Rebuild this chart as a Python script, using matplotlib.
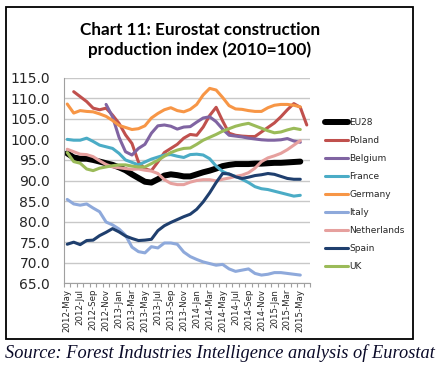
import numpy as np
import matplotlib
matplotlib.use("Agg")
import matplotlib.pyplot as plt
from matplotlib.patches import Rectangle

months = ["2012-May", "2012-Jun", "2012-Jul", "2012-Aug", "2012-Sep", "2012-Oct", "2012-Nov", "2012-Dec",
          "2013-Jan", "2013-Feb", "2013-Mar", "2013-Apr", "2013-May", "2013-Jun", "2013-Jul", "2013-Aug",
          "2013-Sep", "2013-Oct", "2013-Nov", "2013-Dec", "2014-Jan", "2014-Feb", "2014-Mar", "2014-Apr",
          "2014-May", "2014-Jun", "2014-Jul", "2014-Aug", "2014-Sep", "2014-Oct", "2014-Nov", "2014-Dec",
          "2015-Jan", "2015-Feb", "2015-Mar", "2015-Apr", "2015-May", "2015-Jun"]

nan = np.nan
eu28 = [96.6, 95.6, 95.3, 95.3, 95.0, 94.6, 94.2, 93.8, 93.2, 92.5, 91.5, 90.6, 89.7, 89.5, 90.3, 91.2,
        91.5, 91.3, 91.0, 91.0, 91.5, 92.0, 92.4, 92.9, 93.5, 93.8, 94.0, 94.0, 94.0, 94.1, 94.1, 94.2,
        94.3, 94.3, 94.4, 94.5, 94.6, nan]
poland = [nan, 111.6, 110.4, 109.2, 107.6, 107.2, 107.6, 105.9, 103.9, 101.1, 99.0, 94.5, 92.8, 92.4, 94.5, 96.8,
          97.8, 98.8, 100.3, 101.2, 101.0, 103.0, 105.8, 107.8, 104.5, 101.5, 101.0, 100.8, 100.7, 100.7, 101.8, 102.9,
          104.0, 105.5, 107.2, 108.7, 107.8, 103.5]
belgium = [nan, nan, nan, nan, nan, nan, 108.5, 105.5, 100.5, 97.0, 96.2, 97.8, 98.8, 101.5, 103.3, 103.5,
           103.2, 102.5, 103.0, 103.1, 104.2, 105.2, 105.5, 104.3, 102.5, 101.0, 100.8, 100.6, 100.3, 100.1, 99.9, 99.8,
           99.8, 99.9, 100.2, 99.6, 99.3, nan]
france = [100.0, 99.8, 99.8, 100.3, 99.5, 98.6, 98.2, 97.8, 96.6, 95.0, 94.4, 93.8, 94.5, 95.2, 95.7, 96.2,
          96.3, 95.9, 95.6, 96.3, 96.4, 96.2, 95.3, 93.5, 92.2, 91.5, 91.0, 90.3, 89.5, 88.5, 88.0, 87.8,
          87.4, 87.0, 86.6, 86.2, 86.4, nan]
germany = [108.6, 106.4, 107.0, 106.8, 106.7, 106.2, 105.6, 104.6, 103.4, 102.9, 102.4, 102.6, 103.3, 105.2, 106.3, 107.2,
           107.7, 107.0, 106.7, 107.3, 108.5, 110.8, 112.4, 112.0, 110.2, 108.2, 107.4, 107.3, 107.0, 106.8, 106.8, 107.7,
           108.3, 108.5, 108.5, 108.3, 107.9, nan]
italy = [85.4, 84.3, 84.0, 84.3, 83.3, 82.4, 79.9, 79.2, 78.2, 76.7, 73.8, 72.7, 72.4, 73.9, 73.6, 74.8,
         74.8, 74.5, 72.6, 71.5, 70.8, 70.2, 69.8, 69.4, 69.6, 68.5, 67.9, 68.2, 68.5, 67.4, 67.0, 67.2,
         67.6, 67.6, 67.4, 67.2, 67.0, nan]
netherlands = [97.6, 97.0, 96.4, 96.3, 95.8, 94.8, 93.9, 93.3, 93.1, 92.9, 92.7, 92.8, 92.5, 92.3, 91.7, 90.2,
               89.3, 89.0, 89.0, 89.6, 90.0, 90.2, 90.2, 89.9, 90.3, 90.6, 91.0, 91.3, 91.9, 93.0, 94.6, 95.5,
               96.0, 96.6, 97.5, 98.6, 99.7, nan]
spain = [74.5, 75.0, 74.4, 75.4, 75.5, 76.6, 77.4, 78.3, 77.5, 76.5, 75.9, 75.4, 75.5, 75.7, 77.8, 79.0,
         79.8, 80.5, 81.2, 81.8, 83.0, 84.8, 87.0, 89.5, 91.7, 91.6, 90.9, 90.5, 90.8, 91.2, 91.4, 91.7,
         91.5, 91.0, 90.5, 90.3, 90.3, nan]
uk = [96.8, 94.6, 94.2, 92.8, 92.4, 93.0, 93.3, 93.6, 93.8, 93.8, 93.5, 93.3, 93.3, 94.1, 94.9, 95.9,
      96.8, 97.4, 97.8, 97.9, 98.8, 99.8, 100.5, 101.2, 102.0, 102.6, 103.2, 103.6, 103.9, 103.3, 102.7, 102.1,
      101.6, 101.8, 102.3, 102.7, 102.4, nan]

series_names = ["EU28", "Poland", "Belgium", "France", "Germany", "Italy", "Netherlands", "Spain", "UK"]
series_values = [eu28, poland, belgium, france, germany, italy, netherlands, spain, uk]
series_colors = ["#000000", "#C0504D", "#8064A2", "#4BACC6", "#F79646", "#8EA9DB", "#E6A09E", "#1F3F6E", "#9BBB59"]
series_widths = [4.3, 2.2, 2.2, 2.2, 2.2, 2.2, 2.2, 2.2, 2.2]

title_text = "Chart 11: Eurostat construction\nproduction index (2010=100)"
source_text = "Source: Forest Industries Intelligence analysis of Eurostat"
y_ticks = [65, 70, 75, 80, 85, 90, 95, 100, 105, 110, 115]

W, H = 443, 366
fig = plt.figure(figsize=(W / 100, H / 100), dpi=100)
fig.patch.set_facecolor("white")

ax = fig.add_axes([64 / W, 1 - 283.3 / H, (310 - 64) / W, (283.3 - 77.7) / H])
x = np.arange(len(months))
lines = []
for name, vals, c, lw in zip(series_names, series_values, series_colors, series_widths):
    ln, = ax.plot(x, vals, color=c, lw=lw, label=name, solid_capstyle="round", solid_joinstyle="round")
    lines.append(ln)

ax.set_xlim(-0.5, len(months) - 0.5)
ax.set_ylim(65, 115)
ax.set_yticks(y_ticks)
ax.set_yticklabels([f"{v:.1f}" for v in y_ticks], fontsize=10, color="#262626")
ax.tick_params(axis="y", length=0, pad=10)
ax.grid(axis="y", color="#C8C8C8", lw=1)
ax.set_axisbelow(True)

label_idx = list(range(0, 37, 2))
ax.set_xticks(label_idx)
ax.set_xticklabels([months[i] for i in label_idx], rotation=90, fontsize=6.2, color="#262626")
ax.set_xticks(np.arange(-0.5, len(months), 1.0), minor=True)
ax.tick_params(axis="x", which="major", length=0, pad=4)
ax.tick_params(axis="x", which="minor", length=3, color="#A0A0A0", width=0.8)

for s in ["top", "right"]:
    ax.spines[s].set_visible(False)
ax.spines["left"].set_color("#A0A0A0")
ax.spines["bottom"].set_color("#A0A0A0")
ax.spines["left"].set_linewidth(0.8)
ax.spines["bottom"].set_linewidth(0.8)

leg = ax.legend(handles=lines, loc="upper left", bbox_to_anchor=(325 / W, 1 - 118 / H),
                bbox_transform=fig.transFigure, frameon=False, fontsize=6.5,
                handlelength=2.55, handletextpad=0.15, labelspacing=1.0, borderpad=0, borderaxespad=0)
for t in leg.get_texts():
    t.set_color("#262626")

fig.text(200 / W, 1 - 40 / H, title_text, ha="center", va="center", fontsize=12.3,
         fontweight="bold", family="Lato", linespacing=1.3, color="#000000")

fig.add_artist(Rectangle((6 / W, 1 - 339 / H), (413 - 6) / W, (339 - 7) / H, transform=fig.transFigure,
                         fill=False, ec="#000000", lw=1.3))

fig.text(5 / W, 1 - 353 / H, source_text, ha="left", va="center", fontsize=13.2,
         family="Liberation Serif", style="italic", color="#0A0A28")

fig.savefig("out.png", dpi=100, facecolor="white")
